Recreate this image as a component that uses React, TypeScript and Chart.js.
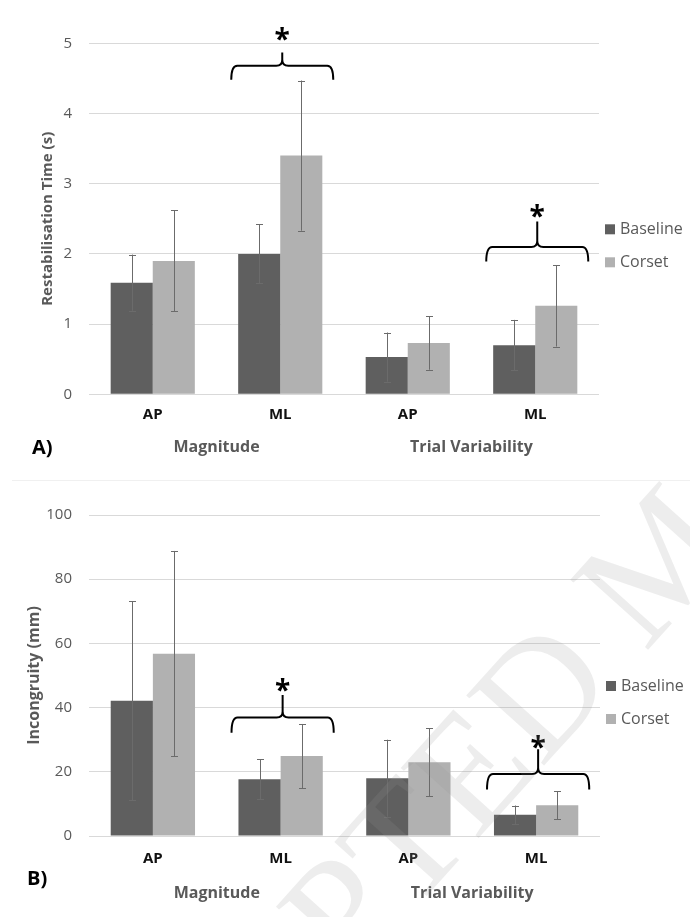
import React, { useEffect, useRef } from "react";
import { Chart, registerables } from "chart.js";

Chart.register(...registerables);

// ---------- data ----------
const subCategories = ["AP", "ML", "AP", "ML"];
const groupLabels = ["Magnitude", "Trial Variability"];
const seriesNames = ["Baseline", "Corset"];

// Panel A: Restabilisation Time (s)
const timeBaseline = [1.59, 2.0, 0.53, 0.7];
const timeCorset = [1.9, 3.4, 0.73, 1.26];
const timeBaselineErr = [0.4, 0.42, 0.35, 0.36];
const timeCorsetErr = [0.72, 1.07, 0.38, 0.58];
const timeAxisMax = 5;
const timeAxisStep = 1;
const timeBrackets = [
  { index: 1, bottom: 4.48, mid: 4.68, peak: 4.87, star: 5.15 },
  { index: 3, bottom: 1.89, mid: 2.1, peak: 2.46, star: 2.62 },
];

// Panel B: Incongruity (mm)
const incBaseline = [42.1, 17.7, 18.0, 6.6];
const incCorset = [56.8, 24.9, 23.0, 9.6];
const incBaselineErr = [31.0, 6.2, 12.0, 2.9];
const incCorsetErr = [32.0, 10.0, 10.6, 4.4];
const incAxisMax = 100;
const incAxisStep = 20;
const incBrackets = [
  { index: 1, bottom: 32.2, mid: 36.9, peak: 43.9, star: 47.4 },
  { index: 3, bottom: 14.5, mid: 19.3, peak: 27.0, star: 29.6 },
];

const watermarkText = "ACCEPTED MANUSCRIPT";

// ---------- styles ----------
const FONT = "'Open Sans', 'Noto Sans', sans-serif";
const baselineColor = "#5f5f5f";
const corsetColor = "#b1b1b1";
const gridColor = "#d9d9d9";
const axisText = "#595959";

type Bracket = { index: number; bottom: number; mid: number; peak: number; star: number };

type PanelCfg = {
  height: number;
  top: number;
  plotTop: number;
  plotBottom: number;
  plotRight: number;
  yTitle: string;
  yTitleSize: number;
  yTitleOffset: number;
  xTickPad: number;
  groupOffset: number;
  max: number;
  step: number;
  baseline: number[];
  corset: number[];
  baselineErr: number[];
  corsetErr: number[];
  brackets: Bracket[];
};

const overlayPlugin = {
  id: "overlay",
  afterDatasetsDraw(chart: any, _args: any, opts: any) {
    const ctx = chart.ctx as CanvasRenderingContext2D;
    const xs = chart.scales.x;
    const ys = chart.scales.y;
    const area = chart.chartArea;
    const errs: number[][] = opts.errs;
    const vals: number[][] = opts.vals;

    // error bars
    ctx.save();
    ctx.strokeStyle = "#6b6b6b";
    ctx.lineWidth = 1;
    for (let d = 0; d < vals.length; d++) {
      const meta = chart.getDatasetMeta(d);
      meta.data.forEach((bar: any, i: number) => {
        const x = Math.round(bar.x) + 0.5;
        const yT = ys.getPixelForValue(vals[d][i] + errs[d][i]);
        const yB = ys.getPixelForValue(vals[d][i] - errs[d][i]);
        ctx.beginPath();
        ctx.moveTo(x, yT);
        ctx.lineTo(x, yB);
        ctx.moveTo(x - 3.5, Math.round(yT) + 0.5);
        ctx.lineTo(x + 3.5, Math.round(yT) + 0.5);
        ctx.moveTo(x - 3.5, Math.round(yB) + 0.5);
        ctx.lineTo(x + 3.5, Math.round(yB) + 0.5);
        ctx.stroke();
      });
    }
    ctx.restore();

    // significance brackets
    const stepPx = xs.getPixelForValue(1) - xs.getPixelForValue(0);
    ctx.save();
    ctx.strokeStyle = "#000";
    ctx.lineWidth = 2;
    ctx.lineJoin = "round";
    (opts.brackets as Bracket[]).forEach((b) => {
      const cx = xs.getPixelForValue(b.index) + 2;
      const hw = 0.4 * stepPx;
      const L = cx - hw;
      const R = cx + hw;
      const yB = ys.getPixelForValue(b.bottom);
      const yM = ys.getPixelForValue(b.mid);
      const yP = ys.getPixelForValue(b.peak);
      const r = 6;
      ctx.beginPath();
      ctx.moveTo(L, yB);
      ctx.quadraticCurveTo(L, yM, L + r, yM);
      ctx.lineTo(cx - r, yM);
      ctx.quadraticCurveTo(cx, yM, cx, yM - r);
      ctx.lineTo(cx, yP);
      ctx.moveTo(R, yB);
      ctx.quadraticCurveTo(R, yM, R - r, yM);
      ctx.lineTo(cx + r, yM);
      ctx.quadraticCurveTo(cx, yM, cx, yM - r);
      ctx.stroke();
      ctx.fillStyle = "#000";
      ctx.font = `bold 28px ${FONT}`;
      ctx.textAlign = "center";
      ctx.textBaseline = "alphabetic";
      ctx.fillText("*", cx, ys.getPixelForValue(b.star) + 16);
    });
    ctx.restore();

    // group labels (second level of category axis)
    ctx.save();
    ctx.fillStyle = axisText;
    ctx.font = `bold 16px ${FONT}`;
    ctx.textAlign = "center";
    ctx.textBaseline = "middle";
    groupLabels.forEach((g, gi) => {
      const x = (xs.getPixelForValue(gi * 2) + xs.getPixelForValue(gi * 2 + 1)) / 2;
      ctx.fillText(g, x, area.bottom + opts.groupOffset);
    });
    ctx.restore();

    // legend
    ctx.save();
    const colors = [baselineColor, corsetColor];
    const midY = (area.top + area.bottom) / 2 + 27;
    ctx.font = `16px ${FONT}`;
    ctx.textBaseline = "middle";
    ctx.textAlign = "left";
    seriesNames.forEach((n, i) => {
      const y = midY + (i - 0.5) * 33;
      ctx.fillStyle = colors[i];
      ctx.fillRect(area.right + 6, y - 5, 10, 10);
      ctx.fillStyle = axisText;
      ctx.fillText(n, area.right + 21, y);
    });
    ctx.restore();
  },
};

function Panel({ cfg }: { cfg: PanelCfg }) {
  const ref = useRef<HTMLCanvasElement | null>(null);
  useEffect(() => {
    if (!ref.current) return;
    const xHeight = cfg.height - cfg.plotBottom;
    const chart = new Chart(ref.current, {
      type: "bar",
      data: {
        labels: subCategories,
        datasets: [
          {
            label: seriesNames[0],
            data: cfg.baseline,
            backgroundColor: baselineColor,
            categoryPercentage: 0.66,
            barPercentage: 1.0,
          },
          {
            label: seriesNames[1],
            data: cfg.corset,
            backgroundColor: corsetColor,
            categoryPercentage: 0.66,
            barPercentage: 1.0,
          },
        ],
      },
      options: {
        animation: false,
        responsive: true,
        maintainAspectRatio: false,
        layout: { padding: { top: cfg.plotTop, right: 690 - cfg.plotRight, left: 0, bottom: 0 } },
        plugins: {
          legend: { display: false },
          tooltip: { enabled: false },
          overlay: {
            vals: [cfg.baseline, cfg.corset],
            errs: [cfg.baselineErr, cfg.corsetErr],
            brackets: cfg.brackets,
            groupOffset: cfg.groupOffset,
          },
        } as any,
        scales: {
          x: {
            grid: { display: false, drawTicks: false },
            border: { display: false },
            ticks: {
              color: "#111",
              font: { family: FONT, size: 15, weight: "bold" },
              padding: cfg.xTickPad,
              maxRotation: 0,
            },
            afterFit: (s: any) => {
              s.height = xHeight;
            },
          },
          y: {
            min: 0,
            max: cfg.max,
            ticks: {
              stepSize: cfg.step,
              color: axisText,
              font: { family: FONT, size: 15 },
              padding: 17,
            },
            grid: { color: gridColor, lineWidth: 1, drawTicks: false },
            border: { display: false },
            title: {
              display: true,
              text: cfg.yTitle,
              color: axisText,
              font: { family: FONT, size: cfg.yTitleSize, weight: "bold" },
              padding: { top: cfg.yTitleOffset, bottom: 0 },
            },
            afterFit: (s: any) => {
              s.width = 89;
            },
          },
        },
      },
      plugins: [overlayPlugin],
    });
    return () => chart.destroy();
  }, [cfg]);
  return (
    <div style={{ position: "absolute", left: 0, top: cfg.top, width: 690, height: cfg.height }}>
      <canvas ref={ref} />
    </div>
  );
}

const panelA: PanelCfg = {
  height: 460,
  top: 0,
  plotTop: 43.3,
  plotBottom: 394.3,
  plotRight: 599,
  yTitle: "Restabilisation Time (s)",
  yTitleSize: 15,
  yTitleOffset: 39,
  xTickPad: 11,
  groupOffset: 53,
  max: timeAxisMax,
  step: timeAxisStep,
  baseline: timeBaseline,
  corset: timeCorset,
  baselineErr: timeBaselineErr,
  corsetErr: timeCorsetErr,
  brackets: timeBrackets,
};

const panelB: PanelCfg = {
  height: 457,
  top: 460,
  plotTop: 55,
  plotBottom: 376,
  plotRight: 600,
  yTitle: "Incongruity (mm)",
  yTitleSize: 16,
  yTitleOffset: 24.4,
  xTickPad: 14,
  groupOffset: 57,
  max: incAxisMax,
  step: incAxisStep,
  baseline: incBaseline,
  corset: incCorset,
  baselineErr: incBaselineErr,
  corsetErr: incCorsetErr,
  brackets: incBrackets,
};

const panelLetter: React.CSSProperties = {
  position: "absolute",
  fontFamily: FONT,
  fontWeight: "bold",
  fontSize: 20,
  color: "#000",
  lineHeight: "24px",
};

export default function App() {
  return (
    <div
      style={{
        position: "absolute",
        left: 0,
        top: 0,
        width: 690,
        height: 917,
        background: "#fff",
        overflow: "hidden",
      }}
    >
      <Panel cfg={panelA} />
      <div
        style={{
          position: "absolute",
          left: 12,
          top: 480,
          width: 678,
          height: 0,
          borderTop: "1px solid #f0f0f0",
        }}
      />
      <Panel cfg={panelB} />
      <div style={{ ...panelLetter, left: 32, top: 435 }}>A)</div>
      <div style={{ ...panelLetter, left: 27, top: 866 }}>B)</div>
      <div
        style={{
          position: "absolute",
          left: 660,
          top: 556,
          transform: "translate(-50%, -50%) rotate(-48deg)",
          fontFamily: "'Liberation Serif', 'DejaVu Serif', serif",
          fontSize: 160,
          lineHeight: 1,
          whiteSpace: "nowrap",
          color: "rgba(150,150,150,0.17)",
          pointerEvents: "none",
        }}
      >
        {watermarkText}
      </div>
    </div>
  );
}
